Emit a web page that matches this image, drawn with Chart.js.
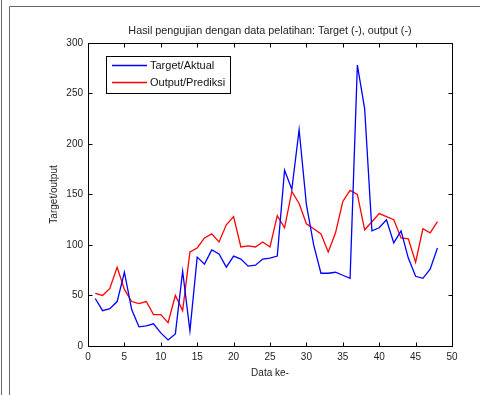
<!DOCTYPE html>
<html>
<head>
<meta charset="utf-8">
<script src="https://cdn.jsdelivr.net/npm/chart.js@4.4.1/dist/chart.umd.min.js"></script>
<style>
  html, body { margin: 0; padding: 0; background: #fff; }
  #wrap { width: 480px; height: 395px; }
</style>
</head>
<body>
<div id="wrap"><canvas id="myChart" width="480" height="395"></canvas></div>
<script>
// data index (1..48)
const dataKe = [];
for (let k = 1; k <= 48; k++) dataKe.push(k);

// Target/Aktual (biru)
const target = [
  47, 35, 37, 44, 73, 36, 19, 20, 22, 13, 6, 12, 74, 15, 88, 81,
  95, 91, 78, 89, 86, 79, 80, 86, 87, 89, 174, 155, 214, 140, 100, 72,
  72, 73, 70, 67, 278, 235, 114, 117, 125, 102, 114, 87, 69, 67, 76, 97
];

// Output/Prediksi (merah)
const output = [
  52, 50, 57, 78, 56, 44, 42, 44, 31, 31, 23, 50, 35, 93, 97, 107,
  111, 103, 120, 128, 98, 99, 98, 103, 98, 129, 117, 153, 141, 121, 116, 111,
  93, 112, 143, 154, 150, 115, 123, 131, 128, 125, 107, 106, 83, 116, 112, 123
];

const xTicks = [0, 5, 10, 15, 20, 25, 30, 35, 40, 45, 50];
const yTicks = [0, 50, 100, 150, 200, 250, 300];

const FONT = 'Arial, "Liberation Sans", Helvetica, sans-serif';

// background + outer figure frame
const framePlugin = {
  id: 'frame',
  beforeDraw(chart) {
    const c = chart.ctx;
    c.save();
    c.fillStyle = '#fff';
    c.fillRect(0, 0, chart.width, chart.height);
    c.strokeStyle = '#666';
    c.lineWidth = 1;
    c.beginPath();
    c.moveTo(1.5, 0); c.lineTo(1.5, chart.height);
    c.moveTo(9.5, chart.height); c.lineTo(9.5, 6.5); c.lineTo(chart.width, 6.5);
    c.stroke();
    c.restore();
  }
};

// matlab style box with inward ticks on all sides + legend box
const boxPlugin = {
  id: 'box',
  afterDraw(chart) {
    const c = chart.ctx;
    const a = chart.chartArea;
    const xs = chart.scales.x, ys = chart.scales.y;
    const L = Math.round(a.left) + 0.5, R = Math.round(a.right) + 0.5;
    const T = Math.round(a.top) + 0.5, B = Math.round(a.bottom) + 0.5;
    c.save();
    c.strokeStyle = '#000';
    c.lineWidth = 1;
    c.strokeRect(L, T, R - L, B - T);
    c.beginPath();
    xs.ticks.forEach(t => {
      const px = Math.round(xs.getPixelForValue(t.value)) + 0.5;
      c.moveTo(px, B); c.lineTo(px, B - 4);
      c.moveTo(px, T); c.lineTo(px, T + 4);
    });
    ys.ticks.forEach(t => {
      const py = Math.round(ys.getPixelForValue(t.value)) + 0.5;
      c.moveTo(L, py); c.lineTo(L + 4, py);
      c.moveTo(R, py); c.lineTo(R - 4, py);
    });
    c.stroke();

    // legend
    const lx = 106.5, ly = 56.5, lw = 124, lh = 37;
    c.fillStyle = '#fff';
    c.fillRect(lx, ly, lw, lh);
    c.strokeRect(lx, ly, lw, lh);
    c.font = '11px ' + FONT;
    c.textBaseline = 'middle';
    chart.data.datasets.forEach((ds, i) => {
      const yy = 65.5 + i * 17;
      c.strokeStyle = ds.borderColor;
      c.lineWidth = 1.3;
      c.beginPath();
      c.moveTo(112, yy); c.lineTo(147, yy);
      c.stroke();
      c.fillStyle = '#111';
      c.fillText(ds.label, 150, yy);
    });
    c.restore();
  }
};

const ctx = document.getElementById('myChart').getContext('2d');
const myChart = new Chart(ctx, {
  type: 'line',
  data: {
    datasets: [{
      label: 'Target/Aktual',
      data: dataKe.map((k, i) => ({ x: k, y: target[i] })),
      borderColor: '#0000ff',
      borderWidth: 1.3,
      pointRadius: 0,
      tension: 0,
      fill: false
    }, {
      label: 'Output/Prediksi',
      data: dataKe.map((k, i) => ({ x: k, y: output[i] })),
      borderColor: '#ff0000',
      borderWidth: 1.3,
      pointRadius: 0,
      tension: 0,
      fill: false
    }]
  },
  plugins: [framePlugin, boxPlugin],
  options: {
    responsive: false,
    animation: false,
    layout: {
      padding: { left: 0, right: 28, top: 0, bottom: 0 }
    },
    plugins: {
      legend: { display: false },
      tooltip: { enabled: false },
      title: {
        display: true,
        fullSize: false, // center above the plot box, like matlab
        text: 'Hasil pengujian dengan data pelatihan: Target (-), output (-)',
        color: '#222',
        font: { size: 10.8, family: FONT, weight: 'normal', lineHeight: 1.1 },
        padding: { top: 25, bottom: 6 }
      }
    },
    scales: {
      x: {
        type: 'linear',
        min: 0,
        max: 50,
        afterBuildTicks(scale) { scale.ticks = xTicks.map(v => ({ value: v })); },
        afterFit(scale) { scale.height = 49; },
        grid: { display: false, drawTicks: false },
        border: { display: false },
        ticks: {
          color: '#222',
          padding: 5,
          maxRotation: 0,
          font: { size: 10, family: FONT }
        },
        title: {
          display: true,
          text: 'Data ke-',
          color: '#222',
          font: { size: 10, family: FONT },
          padding: { top: 0, bottom: 16 }
        }
      },
      y: {
        min: 0,
        max: 300,
        afterBuildTicks(scale) { scale.ticks = yTicks.map(v => ({ value: v })); },
        afterFit(scale) { scale.width = 88; },
        grid: { display: false, drawTicks: false },
        border: { display: false },
        ticks: {
          color: '#222',
          padding: 5,
          font: { size: 10, family: FONT }
        },
        title: {
          display: true,
          text: 'Target/output',
          color: '#222',
          font: { size: 10, family: FONT },
          padding: { top: 48, bottom: 0 }
        }
      }
    }
  }
});
</script>
</body>
</html>
